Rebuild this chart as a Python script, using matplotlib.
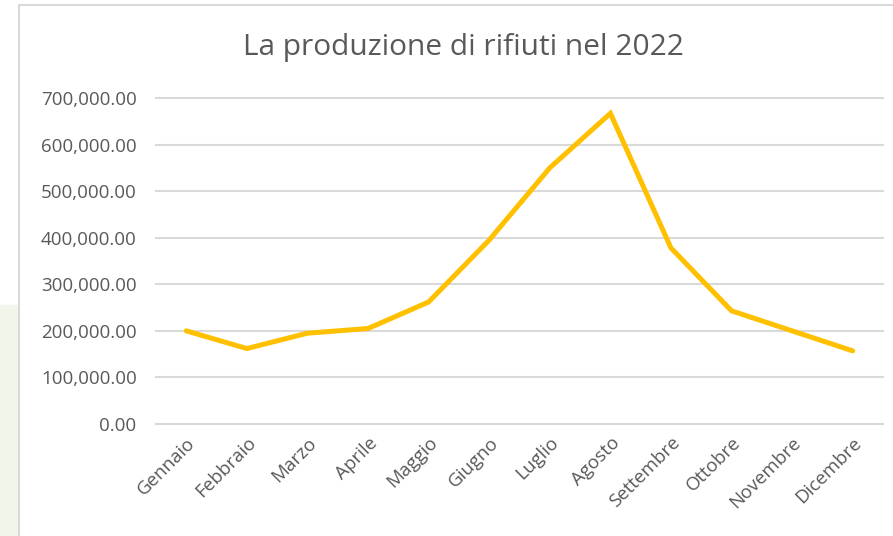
import matplotlib.pyplot as plt
from matplotlib.patches import Rectangle
from matplotlib.lines import Line2D
from matplotlib.ticker import FuncFormatter

mesi = ['Gennaio', 'Febbraio', 'Marzo', 'Aprile', 'Maggio', 'Giugno',
        'Luglio', 'Agosto', 'Settembre', 'Ottobre', 'Novembre', 'Dicembre']
rifiuti = [200000, 162000, 195000, 205000, 262000, 395000,
           550000, 667000, 378000, 243000, 200000, 157000]
yticks = [0, 100000, 200000, 300000, 400000, 500000, 600000, 700000]

plt.rcParams['font.family'] = ['Open Sans', 'DejaVu Sans']

fig = plt.figure(figsize=(8.93, 5.36), dpi=100)
fig.patch.set_facecolor('white')

# pannello verde a sinistra e bordo del grafico
fig.patches.append(Rectangle((0, 0), 17 / 893, 1 - 305 / 536,
                             transform=fig.transFigure, color='#f1f6ea', zorder=0))
fig.lines.append(Line2D([18.5 / 893, 18.5 / 893], [0, 1 - 5 / 536],
                        transform=fig.transFigure, color='#d9d9d9', lw=1.5))
fig.lines.append(Line2D([18.5 / 893, 1], [1 - 5 / 536, 1 - 5 / 536],
                        transform=fig.transFigure, color='#d9d9d9', lw=1.5))

ax = fig.add_axes([156 / 893, 1 - 424 / 536, (883 - 156) / 893, (424 - 98) / 536])
ax.plot(range(len(mesi)), rifiuti, color='#ffc000', lw=3.6,
        solid_joinstyle='miter', solid_capstyle='round', zorder=3)

ax.set_xlim(-0.5, len(mesi) - 0.5)
ax.set_ylim(0, 700000)
ax.set_yticks(yticks)
ax.yaxis.set_major_formatter(FuncFormatter(lambda v, p: f'{v:,.2f}'))
ax.set_xticks(range(len(mesi)))
ax.set_xticklabels(mesi, rotation=45, ha='right', rotation_mode='anchor')
ax.tick_params(axis='both', length=0, colors='#595959', labelsize=13.5)
ax.tick_params(axis='y', pad=14)
ax.tick_params(axis='x', pad=7)
ax.grid(axis='y', color='#d9d9d9', lw=1.5, clip_on=False)
for s in ax.spines.values():
    s.set_visible(False)

fig.text(463 / 893, 1 - 47 / 536, 'La produzione di rifiuti nel 2022',
         ha='center', va='center', fontsize=21.5, color='#595959')

fig.savefig('out.png', dpi=100)
